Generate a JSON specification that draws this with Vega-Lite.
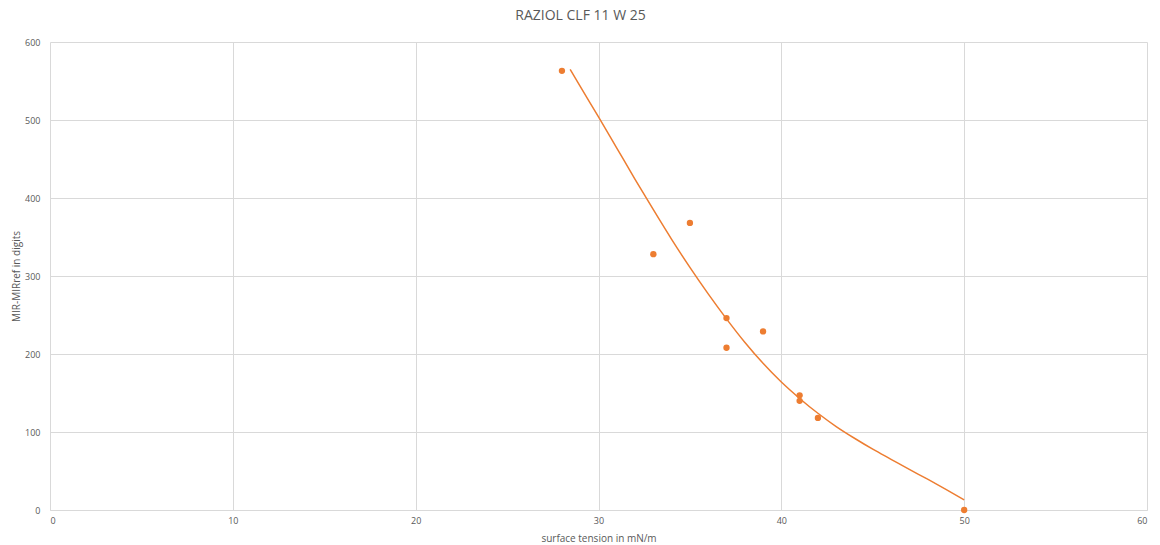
{
  "$schema": "https://vega.github.io/schema/vega-lite/v6.json",
  "width": 1097,
  "height": 468,
  "autosize": "none",
  "padding": {"left": 50, "top": 42, "right": 13, "bottom": 35},
  "background": "white",
  "title": {"text": "RAZIOL CLF 11 W 25", "font": "Open Sans", "fontSize": 14, "fontWeight": "normal", "color": "#595959", "offset": 15, "dx": -18},
  "config": {
    "view": {"stroke": null},
    "axis": {"labelFont": "Open Sans", "titleFont": "Open Sans", "labelFontSize": 9, "titleFontSize": 10, "labelColor": "#595959", "titleColor": "#595959", "titleFontWeight": "normal", "gridColor": "#d9d9d9", "gridWidth": 1, "ticks": false}
  },
  "datasets": {
    "points": [
      {"x": 28, "y": 563},
      {"x": 33, "y": 328},
      {"x": 35, "y": 368},
      {"x": 37, "y": 246},
      {"x": 37, "y": 208},
      {"x": 39, "y": 229},
      {"x": 41, "y": 147},
      {"x": 41, "y": 140},
      {"x": 42, "y": 118},
      {"x": 50, "y": 0}
    ],
    "curve": [
      {"x": 28.45, "y": 565},
      {"x": 29, "y": 543},
      {"x": 30, "y": 504},
      {"x": 31, "y": 464},
      {"x": 32, "y": 424},
      {"x": 33, "y": 385},
      {"x": 34, "y": 347},
      {"x": 35, "y": 311},
      {"x": 36, "y": 277},
      {"x": 37, "y": 245},
      {"x": 38, "y": 215},
      {"x": 39, "y": 188},
      {"x": 40, "y": 164},
      {"x": 41, "y": 143},
      {"x": 42, "y": 124},
      {"x": 43, "y": 107},
      {"x": 44, "y": 92},
      {"x": 45, "y": 78},
      {"x": 46, "y": 65},
      {"x": 47, "y": 52},
      {"x": 48, "y": 39.5},
      {"x": 49, "y": 26.5},
      {"x": 50, "y": 13}
    ]
  },
  "layer": [
    {
      "data": {"name": "curve"},
      "mark": {"type": "line", "color": "#ED7D31", "strokeWidth": 1.5, "interpolate": "monotone"},
      "encoding": {
        "x": {"field": "x", "type": "quantitative", "scale": {"domain": [0, 60], "nice": false}, "axis": {"title": "surface tension in mN/m", "values": [0, 10, 20, 30, 40, 50, 60], "domain": true, "domainColor": "#d9d9d9", "labelPadding": 6, "titlePadding": 8}},
        "y": {"field": "y", "type": "quantitative", "scale": {"domain": [0, 600], "nice": false}, "axis": {"title": "MIR-MIRref in digits", "values": [0, 100, 200, 300, 400, 500, 600], "domain": false, "labelPadding": 10, "titlePadding": 3}}
      }
    },
    {
      "data": {"name": "points"},
      "mark": {"type": "circle", "color": "#ED7D31", "size": 40, "opacity": 1},
      "encoding": {
        "x": {"field": "x", "type": "quantitative"},
        "y": {"field": "y", "type": "quantitative"}
      }
    }
  ]
}
